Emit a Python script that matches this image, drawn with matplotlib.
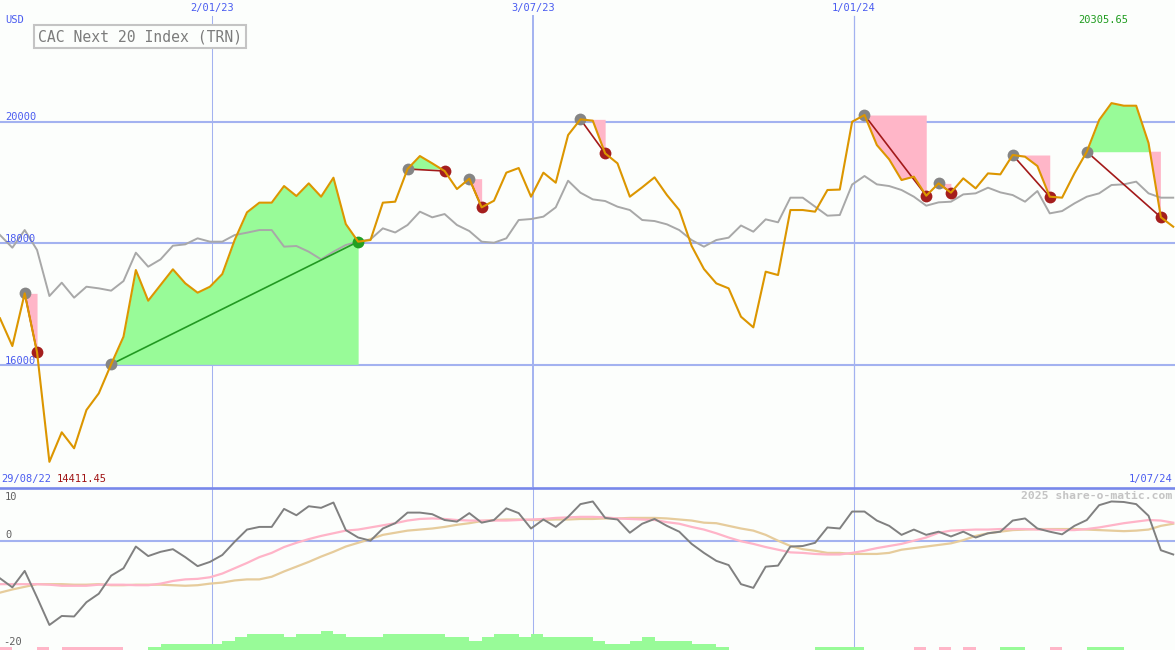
import pandas as pd
import matplotlib
matplotlib.use('Agg')
import matplotlib.pyplot as plt
from matplotlib.lines import Line2D
import matplotlib.transforms as mtransforms

# weekly closes, CAC Next 20 Index (TRN), and a grey comparison index
dates = pd.date_range('2022-09-04', periods=96, freq='7D')
price = [16770, 16314, 17180, 16211, 14411.45, 14897, 14634, 15263, 15537, 16014,
         16468, 17563, 17059, 17317, 17575, 17345, 17191, 17289, 17497, 18056,
         18511, 18670, 18670, 18943, 18779, 18987, 18768, 19080, 18319, 18029,
         18056, 18670, 18686, 19223, 19436, 19316, 19190, 18894, 19064, 18593,
         18702, 19163, 19239, 18768, 19163, 18998, 19781, 20039, 20017, 19480,
         19316, 18768, 18922, 19086, 18796, 18549, 17960, 17580, 17344, 17262,
         16796, 16621, 17536, 17481, 18549, 18549, 18522, 18878, 18885, 20000,
         20110, 19617, 19381, 19042, 19097, 18784, 18987, 18834, 19069, 18905,
         19151, 19135, 19453, 19425, 19272, 18768, 18752, 19151, 19507, 20028,
         20305.65, 20263, 20263, 19650, 18430, 18275]
compare = [18138, 17930, 18220, 17892, 17136, 17355, 17109, 17289, 17262, 17224,
           17382, 17848, 17618, 17738, 17963, 17985, 18084, 18029, 18029, 18138,
           18177, 18220, 18220, 17947, 17958, 17864, 17738, 17864, 17974, 18029,
           18067, 18248, 18180, 18303, 18522, 18429, 18483, 18303, 18204, 18029,
           18012, 18084, 18385, 18401, 18440, 18593, 19031, 18834, 18724, 18697,
           18604, 18549, 18385, 18368, 18314, 18220, 18056, 17947, 18056, 18095,
           18295, 18193, 18396, 18347, 18752, 18752, 18604, 18456, 18467, 18968,
           19108, 18971, 18943, 18878, 18768, 18620, 18675, 18686, 18806, 18823,
           18916, 18839, 18795, 18686, 18861, 18494, 18532, 18658, 18768, 18823,
           18960, 18971, 19015, 18823, 18752, 18752]

# lower panel oscillator and its two averages
momentum = [-7.1, -8.8, -5.7, -10.7, -15.9, -14.2, -14.3, -11.6, -10.0, -6.6,
            -5.2, -1.1, -2.9, -2.1, -1.6, -3.1, -4.8, -4.0, -2.7, -0.2,
            2.1, 2.6, 2.6, 6.0, 4.8, 6.5, 6.2, 7.2, 2.0, 0.6,
            0.0, 2.3, 3.3, 5.3, 5.3, 5.0, 3.9, 3.6, 5.2, 3.4,
            3.9, 6.1, 5.2, 2.3, 4.0, 2.6, 4.5, 6.9, 7.4, 4.3,
            4.0, 1.5, 3.2, 4.1, 2.8, 1.7, -0.6, -2.3, -3.8, -4.6,
            -8.2, -8.9, -4.9, -4.7, -1.1, -1.0, -0.4, 2.5, 2.3, 5.5,
            5.5, 3.8, 2.8, 1.1, 2.1, 1.1, 1.7, 0.8, 1.7, 0.6,
            1.4, 1.7, 3.8, 4.2, 2.3, 1.7, 1.2, 2.8, 3.9, 6.7,
            7.4, 7.3, 6.9, 4.7, -1.8, -2.6]
momentum_fast = [-8.2, -8.2, -8.2, -8.2, -8.3, -8.5, -8.5, -8.5, -8.3, -8.3,
                 -8.3, -8.4, -8.4, -8.1, -7.6, -7.3, -7.2, -6.9, -6.2, -5.2,
                 -4.2, -3.1, -2.3, -1.2, -0.4, 0.3, 0.9, 1.4, 1.9, 2.1,
                 2.5, 2.9, 3.3, 3.8, 4.1, 4.2, 4.1, 3.9, 3.8, 3.8,
                 3.8, 3.8, 3.9, 4.0, 4.1, 4.3, 4.4, 4.5, 4.5, 4.4,
                 4.2, 4.1, 4.0, 3.9, 3.5, 3.2, 2.6, 2.1, 1.4, 0.6,
                 -0.1, -0.6, -1.2, -1.7, -2.2, -2.3, -2.5, -2.6, -2.6, -2.3,
                 -1.9, -1.4, -1.0, -0.6, 0.0, 0.6, 1.5, 1.9, 2.0, 2.1,
                 2.1, 2.2, 2.2, 2.2, 2.1, 2.1, 2.0, 2.0, 2.2, 2.5,
                 2.9, 3.3, 3.6, 3.9, 3.8, 3.4]
momentum_slow = [-9.8, -9.2, -8.7, -8.2, -8.2, -8.2, -8.3, -8.3, -8.2, -8.4,
                 -8.4, -8.3, -8.3, -8.3, -8.4, -8.5, -8.4, -8.1, -7.9, -7.5,
                 -7.3, -7.3, -6.8, -5.8, -4.9, -4.0, -3.0, -2.1, -1.1, -0.4,
                 0.3, 1.1, 1.5, 1.9, 2.1, 2.3, 2.6, 3.0, 3.3, 3.7,
                 3.9, 4.0, 4.0, 3.9, 3.9, 4.0, 4.0, 4.1, 4.1, 4.2,
                 4.2, 4.3, 4.3, 4.3, 4.2, 4.0, 3.8, 3.4, 3.3, 2.8,
                 2.3, 1.9, 1.1, 0.0, -1.0, -1.6, -1.9, -2.3, -2.3, -2.5,
                 -2.5, -2.5, -2.3, -1.7, -1.4, -1.1, -0.8, -0.5, 0.1, 0.9,
                 1.4, 1.7, 2.0, 2.1, 2.2, 2.2, 2.2, 2.2, 2.1, 2.0,
                 1.9, 1.8, 1.9, 2.1, 2.8, 3.2]
# signal strength bars at the bottom (positive green, negative pink)
signal = [-1, 0, 0, -1, 0, -1, -1, -1, -1, -1,
          0, 0, 1, 2, 2, 2, 2, 2, 3, 4,
          5, 5, 5, 4, 5, 5, 6, 5, 4, 4,
          4, 5, 5, 5, 5, 5, 4, 4, 3, 4,
          5, 5, 4, 5, 4, 4, 4, 4, 3, 2,
          2, 3, 4, 3, 3, 3, 2, 2, 1, 0,
          0, 0, 0, 0, 0, 0, 1, 1, 1, 1,
          0, 0, 0, 0, -1, 0, -1, 0, -1, 0,
          0, 1, 1, 0, 0, -1, 0, 0, 1, 1,
          1, 0, 0, 0, 0, 0]

# trade periods: start (grey marker) and end marker indices
period_start = [2, 9, 33, 38, 47, 70, 76, 82, 88]
period_end = [3, 29, 36, 39, 49, 75, 77, 85, 94]

grid_levels = [16000, 18000, 20000]
grid_labels = ['16000', '18000', '20000']
month_lines = pd.to_datetime(['2023-01-02', '2023-07-03', '2024-01-01'])
month_labels = ['2/01/23', '3/07/23', '1/01/24']

W, H = 1175, 650
BG = '#fcfefc'
BLUE_TXT = '#4a5cf0'
GRID = '#a3b2f0'
MONO = 'DejaVu Sans Mono'


def fxy(x, y):
    return x / W, 1 - y / H


fig = plt.figure(figsize=(W / 100, H / 100), dpi=100, facecolor=BG)
ax = fig.add_axes([0, 163 / H, 1, 487 / H])
ax2 = fig.add_axes([0, 0, 1, 163 / H])
for a in (ax, ax2):
    a.set_facecolor(BG)
    a.set_xlim(pd.Timestamp('2022-09-04'), pd.Timestamp('2024-07-01'))
    for s in a.spines.values():
        s.set_visible(False)
    a.set_xticks([])
    a.set_yticks([])

ax.set_ylim(13998, 22000)
ax2.set_ylim(-20.62, 10.13)

# grid
for lvl in grid_levels:
    ax.axhline(lvl, color=GRID, lw=1.5, zorder=0.5)
for d, w in zip(month_lines, [0.75, 1.4, 0.9]):
    ax.axvline(d, ymax=1 - 16 / 487, color=GRID, lw=w, zorder=0.5)
    ax2.axvline(d, color=GRID, lw=0.75, zorder=0.5)
ax2.axhline(0, color=GRID, lw=1.5, zorder=0.5)
fig.add_artist(Line2D([0, 1], [1 - 487.5 / H] * 2, transform=fig.transFigure,
                      color='#7888ea', lw=1.9))

# gain / loss periods
price_s = pd.Series(price, index=dates)
for s, e in zip(period_start, period_end):
    seg = price_s.iloc[s:e + 1]
    base = price[s]
    ax.fill_between(seg.index, seg.values, base, where=seg.values >= base,
                    interpolate=True, color='#98fb98', lw=0, zorder=1)
    ax.fill_between(seg.index, seg.values, base, where=seg.values <= base,
                    interpolate=True, color='#ffb6c8', lw=0, zorder=1)

ax.plot(dates, compare, color='#a8a8a8', lw=1.4, zorder=2)

for s, e in zip(period_start, period_end):
    gain = price[e] > price[s]
    lc = '#229922' if gain else '#a31a1a'
    ax.plot([dates[s], dates[e]], [price[s], price[e]], color=lc, lw=1.2, zorder=3)
    ax.plot(dates[s], price[s], 'o', color='#858585', ms=8.5, mew=0, zorder=3.5)
    ax.plot(dates[e], price[e], 'o', color='#22a022' if gain else '#a41e1e',
            ms=8.5, mew=0, zorder=3.5)

ax.plot(dates, price, color='#dc9600', lw=1.5, zorder=4)

# lower panel
ax3 = ax2.twinx()
ax3.set_ylim(0, 52)
ax3.set_axis_off()
bar_colors = ['#98fb98' if v > 0 else '#ffb6c8' for v in signal]
ax3.bar(dates, [abs(v) for v in signal], width=7, align='edge', color=bar_colors, lw=0)

ax2.plot(dates, momentum_slow, color='#e6cc9c', lw=1.6, zorder=2)
ax2.plot(dates, momentum_fast, color='#ffb4c8', lw=1.6, zorder=2.1)
ax2.plot(dates, momentum, color='#808080', lw=1.4, zorder=3)

# texts
small = dict(family=MONO, fontsize=7.5)
trans = mtransforms.blended_transform_factory(ax.transData, ax.transAxes)
for d, lab in zip(month_lines, month_labels):
    ax.text(d, 1 - 8.5 / 487, lab, transform=trans, ha='center', va='center',
            color=BLUE_TXT, **small)
trans_y = mtransforms.blended_transform_factory(ax.transAxes, ax.transData)
for lvl, lab in zip(grid_levels, grid_labels):
    ax.text(5 / W, lvl - 10, lab, transform=trans_y, ha='left', va='bottom',
            color=BLUE_TXT, **small)
trans_y2 = mtransforms.blended_transform_factory(ax2.transAxes, ax2.transData)
ax2.text(5 / W, 9.2, '10', transform=trans_y2, ha='left', va='top', color='#606060', **small)
ax2.text(5 / W, 0.1, '0', transform=trans_y2, ha='left', va='bottom', color='#606060', **small)
ax2.text(3 / W, -20.0, '-20', transform=trans_y2, ha='left', va='bottom', color='#606060', **small)

fig.text(*fxy(5, 20), 'USD', ha='left', va='center', color=BLUE_TXT, **small)
fig.text(*fxy(1128, 20), '20305.65', ha='right', va='center', color='#1f9c1f', **small)
fig.text(*fxy(1, 479), '29/08/22', ha='left', va='center', color=BLUE_TXT, **small)
fig.text(*fxy(57, 479), '14411.45', ha='left', va='center', color='#a01414', **small)
fig.text(*fxy(1172, 479), '1/07/24', ha='right', va='center', color=BLUE_TXT, **small)
fig.text(*fxy(1172, 496), '2025 share-o-matic.com', ha='right', va='center',
         color='#c4c4c4', family=MONO, fontsize=8.2, fontweight='bold')
fig.text(*fxy(38, 36.5), 'CAC Next 20 Index (TRN)', ha='left', va='center',
         color='#7c7c7c', family=MONO, fontsize=10.6,
         bbox=dict(boxstyle='square,pad=0.28', fc=BG, ec='#c4c4c4', lw=1.5))

fig.savefig('out.png', dpi=100, facecolor=BG)
